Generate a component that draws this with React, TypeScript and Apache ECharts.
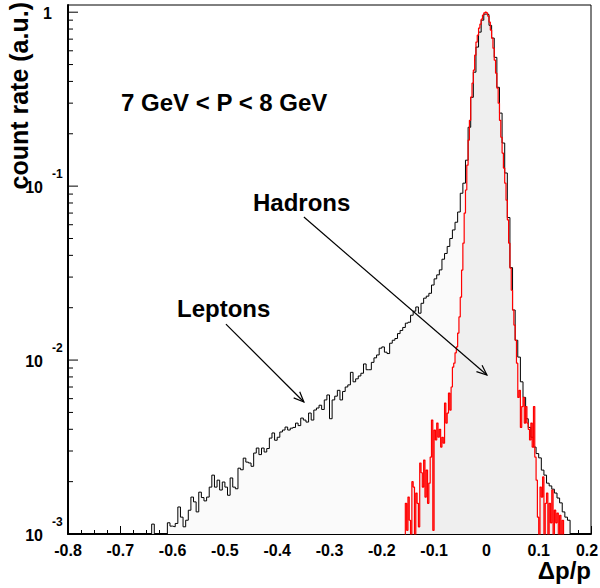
import React, { useEffect, useRef } from 'react';
import * as echarts from 'echarts';

// ---------------- data ----------------
// Leptons (black histogram): bin width 0.005, first bin left edge at -0.64
const leptonBinWidth = 0.005;
const leptonFirstEdge = -0.64;
const leptonCounts = [
  0.00114, 0, 0, 0, 0, 0, 0.00116, 0.00111, 0.0011, 0.00115,
  0.00143, 0.00125, 0.0011, 0.0012, 0.00137, 0.00163, 0.00153, 0.00134, 0.00174, 0.00162,
  0.00155, 0.00163, 0.00186, 0.00218, 0.00186, 0.00204, 0.00179, 0.00199, 0.00186, 0.00167,
  0.0021, 0.00186, 0.00182, 0.00239, 0.00234, 0.00273, 0.00259, 0.00256, 0.00245, 0.00292,
  0.00312, 0.00286, 0.00312, 0.00296, 0.0031, 0.00356, 0.00381, 0.00346, 0.0036, 0.00386,
  0.00396, 0.00412, 0.00396, 0.00406, 0.0041, 0.00434, 0.0042, 0.00464, 0.00452, 0.0044,
  0.00496, 0.00452, 0.00516, 0.0053, 0.0055, 0.0052, 0.0059, 0.0063, 0.0046, 0.0059,
  0.0062, 0.0067, 0.0059, 0.0066, 0.007, 0.0072, 0.0085, 0.0075, 0.0078, 0.0081,
  0.0084, 0.0095, 0.0088, 0.0088, 0.0097, 0.0103, 0.0107, 0.0117, 0.0119, 0.0111,
  0.0109, 0.0125, 0.013, 0.0133, 0.0142, 0.0148, 0.0154, 0.0163, 0.0165, 0.0181,
  0.0191, 0.0202, 0.0186, 0.0212, 0.0227, 0.0233, 0.0242, 0.027, 0.0293, 0.0309,
  0.033, 0.038, 0.041, 0.045, 0.05, 0.056, 0.062, 0.071, 0.091, 0.104,
  0.141, 0.218, 0.324, 0.452, 0.63, 0.768, 0.9, 0.975, 0.97, 0.84,
  0.71, 0.55, 0.37, 0.263, 0.177, 0.119, 0.066, 0.034, 0.0194, 0.013,
  0.0104, 0.0075, 0.0061, 0.0046, 0.0041, 0.0036, 0.00316, 0.0029, 0.00274, 0.00233,
  0.00218, 0.00196, 0.00189, 0.00181, 0.00172, 0.00161, 0.00151, 0.00134, 0.00125, 0.0012,
];

// Hadrons (red histogram): bin width 0.0025, first bin left edge at -0.16
const hadronBinWidth = 0.0025;
const hadronFirstEdge = -0.16;
const hadronCounts = [
  0, 0, 0.0015, 0.00105, 0.00163, 0.0012, 0, 0.002, 0.00186, 0,
  0.00172, 0.0015, 0.0011, 0.00256, 0.00225, 0.00186, 0.00266, 0.00163, 0.00233, 0.0015,
  0.00196, 0.00277, 0.00452, 0.00105, 0.00396, 0.00347, 0.00434, 0.0036, 0.004, 0.00316,
  0.0036, 0.00333, 0.00566, 0.00434, 0.00496, 0.00646, 0.00516, 0.007, 0.0091, 0.0096,
  0.011, 0.0119, 0.0143, 0.0177, 0.023, 0.0329, 0.047, 0.07, 0.095, 0.132,
  0.184, 0.239, 0.325, 0.391, 0.464, 0.566, 0.673, 0.738, 0.81, 0.853,
  0.912, 0.961, 0.99, 1.0, 0.99, 0.948, 0.877, 0.789, 0.71, 0.621,
  0.53, 0.446, 0.366, 0.3, 0.239, 0.191, 0.155, 0.127, 0.104, 0.083,
  0.064, 0.047, 0.0338, 0.0252, 0.0194, 0.0159, 0.013, 0.0096, 0.0061, 0.0067,
  0.0041, 0.0054, 0.0061, 0.00434, 0.0054, 0.00434, 0.004, 0.00347, 0.00434, 0.00316,
  0.0054, 0.00277, 0.00204, 0.00125, 0, 0.00186, 0.00163, 0.00213, 0, 0.0015,
  0.00172, 0, 0.0015, 0.00116, 0.00179, 0, 0.00137, 0.00116, 0.00132, 0,
  0.00128, 0, 0.0012, 0, 0, 0, 0, 0,
];

const xTickLabels = ['-0.8', '-0.7', '-0.6', '-0.5', '-0.4', '-0.3', '-0.2', '-0.1', '0', '0.1', '0.2'];
const yDecadeValues = [0.001, 0.01, 0.1, 1];
const yDecadeBase = ['10', '10', '10', '1'];
const yDecadeExp = ['-3', '-2', '-1', ''];
const yMinorValues = [
  0.002, 0.003, 0.004, 0.005, 0.006, 0.007, 0.008, 0.009,
  0.02, 0.03, 0.04, 0.05, 0.06, 0.07, 0.08, 0.09,
  0.2, 0.3, 0.4, 0.5, 0.6, 0.7, 0.8, 0.9,
];

// annotation arrows (data coordinates): [x1, y1, x2, y2]
const hadronArrow = [-0.349, 0.0664, 0.001, 0.0082];
const leptonArrow = [-0.498, 0.0161, -0.349, 0.00574];

const X_MIN = -0.8;
const X_MAX = 0.2;
const Y_MIN = 0.001;
const Y_MAX = 1.1;
const FLOOR = 1e-5;

const FONT = '"Liberation Sans", Arial, Helvetica, sans-serif';

function histPoints(firstEdge: number, width: number, counts: number[]) {
  const pts: number[][] = [[firstEdge, FLOOR]];
  counts.forEach((c, i) => pts.push([firstEdge + i * width, c > 0 ? c : FLOOR]));
  pts.push([firstEdge + counts.length * width, FLOOR]);
  return pts;
}

export default function App() {
  const ref = useRef<HTMLDivElement>(null);

  useEffect(() => {
    if (!ref.current) return;
    const chart = echarts.init(ref.current, null, { renderer: 'svg' });

    const lepPts = histPoints(leptonFirstEdge, leptonBinWidth, leptonCounts);
    const hadPts = histPoints(hadronFirstEdge, hadronBinWidth, hadronCounts);

    const arrowRender = (params: any, api: any) => {
      const p1 = api.coord([api.value(0), api.value(1)]);
      const p2 = api.coord([api.value(2), api.value(3)]);
      const ang = Math.atan2(p2[1] - p1[1], p2[0] - p1[0]);
      const L = 11;
      const a = 0.4;
      const h1 = [p2[0] - L * Math.cos(ang - a), p2[1] - L * Math.sin(ang - a)];
      const h2 = [p2[0] - L * Math.cos(ang + a), p2[1] - L * Math.sin(ang + a)];
      return {
        type: 'group',
        children: [
          { type: 'line', shape: { x1: p1[0], y1: p1[1], x2: p2[0], y2: p2[1] }, style: { stroke: '#000', lineWidth: 1.2 } },
          { type: 'polyline', shape: { points: [h1, p2, h2] }, style: { stroke: '#000', lineWidth: 1.2, fill: 'none' } },
        ],
      };
    };

    const lastLabel = xTickLabels.length - 1;

    const option: any = {
      animation: false,
      backgroundColor: '#fff',
      grid: {
        left: 68, right: 9, top: 5, bottom: 54,
        outerBoundsMode: 'none',
        containLabel: false,
        show: true, borderColor: '#000', borderWidth: 1, backgroundColor: 'transparent',
      },
      xAxis: {
        type: 'value',
        min: X_MIN, max: X_MAX, interval: 0.1,
        axisLine: { show: true, onZero: false, lineStyle: { color: '#000', width: 2 } },
        axisTick: { show: true, inside: true, length: 8, lineStyle: { color: '#000', width: 1 } },
        minorTick: { show: true, splitNumber: 4, length: 4, lineStyle: { color: '#000', width: 1 } },
        splitLine: { show: false },
        axisLabel: {
          margin: 8,
          color: '#000', fontFamily: FONT, fontWeight: 'bold', fontSize: 16,
          formatter: (v: number) => {
            const i = Math.round((v - X_MIN) / 0.1);
            const t = xTickLabels[i] ?? '';
            return i === lastLabel ? `{last|${t}}` : t;
          },
          rich: {
            last: { color: '#000', fontFamily: FONT, fontWeight: 'bold', fontSize: 16, padding: [0, 8, 0, 0] },
          },
          showMinLabel: true, showMaxLabel: true,
        },
      },
      yAxis: {
        type: 'log', logBase: 10,
        min: Y_MIN, max: Y_MAX,
        axisLine: { show: true, onZero: false, lineStyle: { color: '#000', width: 2 } },
        axisTick: { show: false },
        splitLine: { show: false },
        axisLabel: { show: false },
      },
      graphic: [
        { type: 'text', x: 19, y: 2, rotation: Math.PI / 2,
          style: { text: 'count rate (a.u.)', font: `bold 25px ${FONT}`, fill: '#000', align: 'right', verticalAlign: 'middle' } },
        { type: 'text', x: 591, y: 570,
          style: { text: 'Δp/p', font: `bold 24px ${FONT}`, fill: '#000', align: 'right', verticalAlign: 'middle' } },
        { type: 'text', x: 121, y: 102,
          style: { text: '7 GeV < P < 8 GeV', font: `bold 24px ${FONT}`, fill: '#000', align: 'left', verticalAlign: 'middle' } },
        { type: 'text', x: 253, y: 202,
          style: { text: 'Hadrons', font: `bold 24px ${FONT}`, fill: '#000', align: 'left', verticalAlign: 'middle' } },
        { type: 'text', x: 177, y: 308,
          style: { text: 'Leptons', font: `bold 24px ${FONT}`, fill: '#000', align: 'left', verticalAlign: 'middle' } },
      ],
      series: [
        {
          type: 'line', name: 'lepton-fill', data: lepPts, step: 'end',
          showSymbol: false, symbol: 'none', silent: true, z: 1,
          lineStyle: { width: 0, opacity: 0 },
          areaStyle: { color: '#fafafa', opacity: 1, origin: 'start' },
        },
        {
          type: 'line', name: 'hadron-fill', data: hadPts, step: 'end',
          showSymbol: false, symbol: 'none', silent: true, z: 2,
          lineStyle: { width: 0, opacity: 0 },
          areaStyle: { color: '#efefef', opacity: 1, origin: 'start' },
        },
        {
          type: 'line', name: 'Leptons', data: lepPts, step: 'end',
          showSymbol: false, symbol: 'none', silent: true, z: 3,
          lineStyle: { color: '#000', width: 1 },
        },
        {
          type: 'line', name: 'Hadrons', data: hadPts, step: 'end',
          showSymbol: false, symbol: 'none', silent: true, z: 4,
          lineStyle: { color: '#ff0000', width: 1.2 },
        },
        {
          type: 'custom', name: 'y-minor-ticks', silent: true, z: 5,
          data: yMinorValues.map((v) => [X_MIN, v]),
          encode: { x: 0, y: 1 },
          renderItem: (params: any, api: any) => {
            const p = api.coord([X_MIN, api.value(1)]);
            return { type: 'line', shape: { x1: p[0], y1: p[1], x2: p[0] + 5, y2: p[1] }, style: { stroke: '#000', lineWidth: 1 } };
          },
        },
        {
          type: 'custom', name: 'y-decades', silent: true, z: 5,
          data: yDecadeValues.map((v) => [X_MIN, v]),
          encode: { x: 0, y: 1 },
          renderItem: (params: any, api: any) => {
            const i = params.dataIndex;
            const p = api.coord([X_MIN, api.value(1)]);
            const children: any[] = [
              { type: 'line', shape: { x1: p[0], y1: p[1], x2: p[0] + 10, y2: p[1] }, style: { stroke: '#000', lineWidth: 1 } },
            ];
            if (yDecadeExp[i]) {
              children.push({ type: 'text', x: p[0] - 25, y: p[1] + 1,
                style: { text: yDecadeBase[i], font: `bold 16px ${FONT}`, fill: '#000', align: 'right', verticalAlign: 'middle' } });
              children.push({ type: 'text', x: p[0] - 16, y: p[1] - 12,
                style: { text: yDecadeExp[i], font: `bold 12px ${FONT}`, fill: '#000', align: 'left', verticalAlign: 'middle' } });
            } else {
              children.push({ type: 'text', x: p[0] - 16, y: p[1] + 1,
                style: { text: yDecadeBase[i], font: `bold 16px ${FONT}`, fill: '#000', align: 'right', verticalAlign: 'middle' } });
            }
            return { type: 'group', children };
          },
        },
        {
          type: 'custom', name: 'arrows', silent: true, z: 6,
          data: [hadronArrow, leptonArrow],
          encode: { x: [0, 2], y: [1, 3] },
          renderItem: arrowRender,
        },
      ],
    };

    chart.setOption(option);
    return () => chart.dispose();
  }, []);

  return <div ref={ref} style={{ width: 600, height: 588, position: 'absolute', left: 0, top: 0 }} />;
}
